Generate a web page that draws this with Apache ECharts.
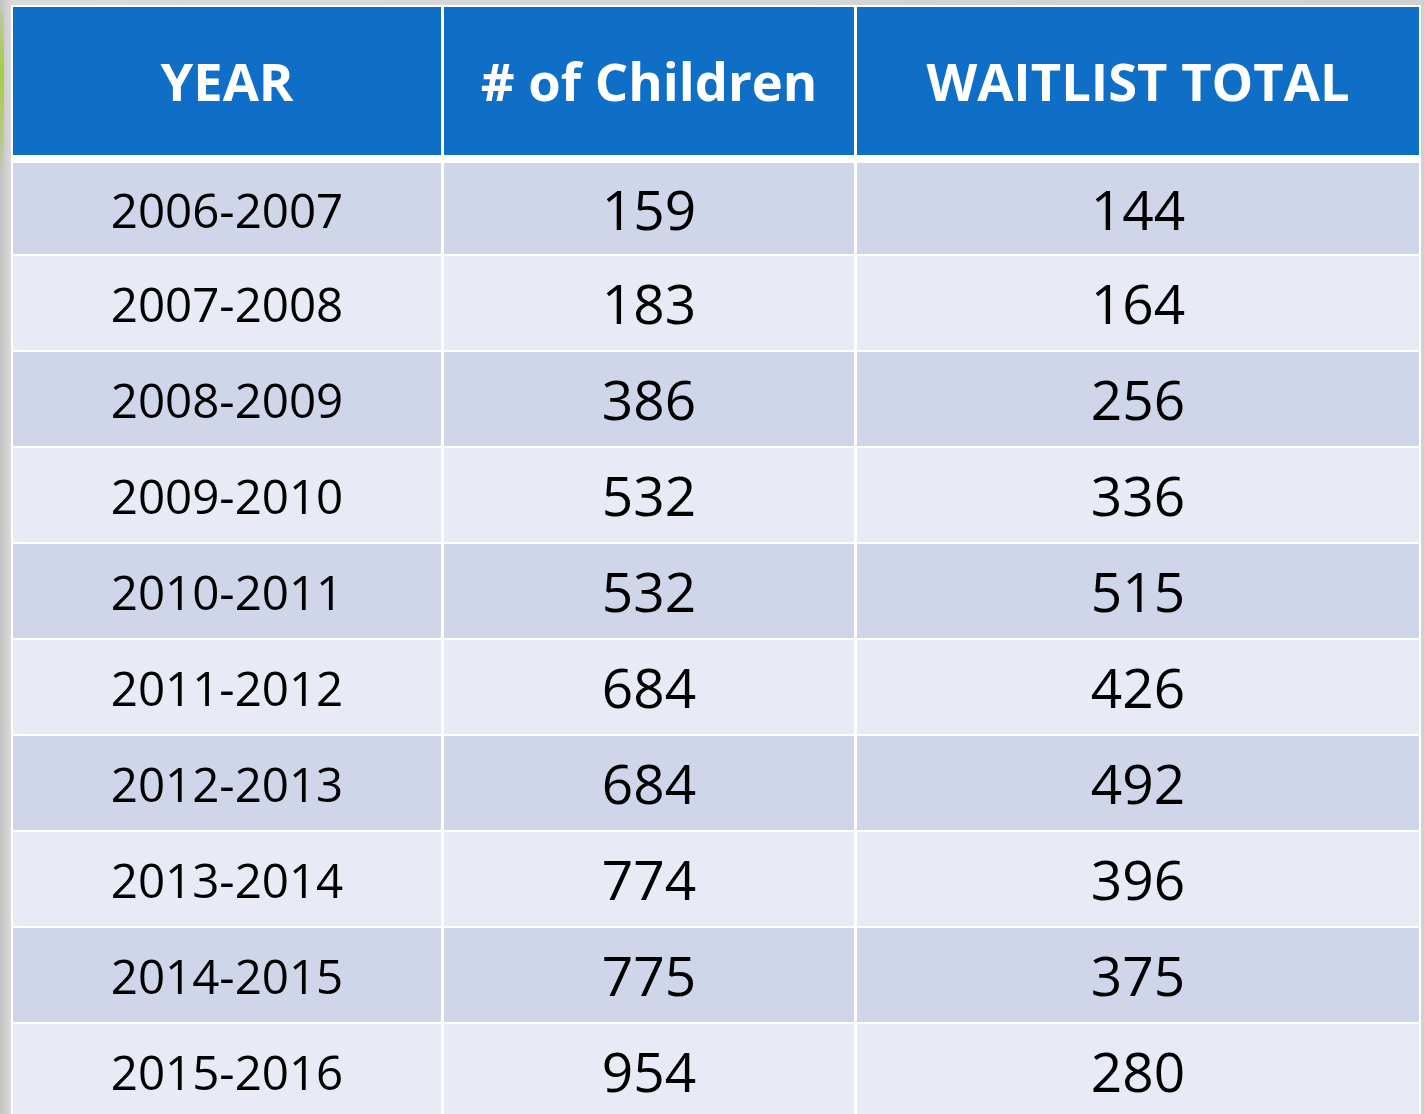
<!DOCTYPE html>
<html>
<head>
<meta charset="utf-8">
<script src="https://cdn.jsdelivr.net/npm/echarts@6/dist/echarts.min.js"></script>
<style>
  html, body { margin: 0; padding: 0; width: 1424px; height: 1114px; overflow: hidden; background: #d4d4d4; }
  #chart { width: 1424px; height: 1114px; }
</style>
</head>
<body>
<div id="chart"></div>
<script>
// ---- data ----
const headers = ['YEAR', '# of Children', 'WAITLIST TOTAL'];
const years = ['2006-2007', '2007-2008', '2008-2009', '2009-2010', '2010-2011',
               '2011-2012', '2012-2013', '2013-2014', '2014-2015', '2015-2016'];
const children = [159, 183, 386, 532, 532, 684, 684, 774, 775, 954];
const waitlist = [144, 164, 256, 336, 515, 426, 492, 396, 375, 280];

// ---- layout (not data) ----
const colLeft = [2, 433, 846];
const colRight = [430, 843, 1408];
const headerTop = 2, headerBottom = 150;
const rowPitch = 96, rowBase = 155, rowH = 94, firstRowTop = 158;

const cells = [];
headers.forEach((h, c) => cells.push({ col: c, row: -1, text: h }));
years.forEach((y, r) => {
  cells.push({ col: 0, row: r, text: y });
  cells.push({ col: 1, row: r, text: String(children[r]) });
  cells.push({ col: 2, row: r, text: String(waitlist[r]) });
});

const chart = echarts.init(document.getElementById('chart'), null, { renderer: 'canvas' });

const option = {
  backgroundColor: {
    type: 'linear', x: 0, y: 0, x2: 1, y2: 0,
    colorStops: [{ offset: 0, color: '#c4c4c4' }, { offset: 0.008, color: '#dadada' }, { offset: 1, color: '#d0d0d0' }]
  },
  animation: false,
  graphic: [
    {
      type: 'rect', left: 0, top: 10, z: 0,
      shape: { width: 4, height: 160 },
      style: {
        fill: {
          type: 'linear', x: 0, y: 0, x2: 0, y2: 1,
          colorStops: [{ offset: 0, color: 'rgba(160,200,60,0.2)' }, { offset: 0.4, color: '#a6cf3c' }, { offset: 1, color: 'rgba(160,200,60,0.1)' }]
        }
      }
    }
  ],
  grid: { left: 11, top: 5, width: 1410, height: 1109, show: true, backgroundColor: '#ffffff', borderWidth: 0 },
  xAxis: { type: 'value', min: 0, max: 1410, show: false },
  yAxis: { type: 'value', min: 0, max: 1109, inverse: true, show: false },
  series: [{
    type: 'custom',
    clip: false,
    data: cells.map(c => [c.col, c.row]),
    renderItem: function (params, api) {
      const cell = cells[params.dataIndex];
      const c = cell.col, r = cell.row;
      let top, bottom, fill;
      if (r < 0) {
        top = headerTop; bottom = headerBottom; fill = '#0F6FC6';
      } else {
        top = r === 0 ? firstRowTop : rowBase + r * rowPitch;
        bottom = rowBase + r * rowPitch + rowH;
        fill = (r % 2 === 0) ? '#CFD6EA' : '#E8EBF5';
      }
      const p0 = api.coord([colLeft[c], top]);
      const p1 = api.coord([colRight[c], bottom]);
      const cx = (p0[0] + p1[0]) / 2, cy = (p0[1] + p1[1]) / 2;
      let font;
      if (r < 0) {
        font = { fontFamily: 'Open Sans', fontWeight: 'bold', fontSize: 52.5, fill: '#ffffff' };
      } else if (c === 0) {
        font = { fontFamily: 'Open Sans', fontSize: 47.5, fill: '#000000' };
      } else {
        font = { fontFamily: 'Open Sans', fontSize: 55, fill: '#000000' };
      }
      return {
        type: 'group',
        children: [
          { type: 'rect', shape: { x: p0[0], y: p0[1], width: p1[0] - p0[0], height: p1[1] - p0[1] }, style: { fill: fill } },
          { type: 'text', x: cx, y: cy + 5.5, style: Object.assign({ text: cell.text, align: 'center', verticalAlign: 'middle' }, font) }
        ]
      };
    }
  }]
};
chart.setOption(option);
</script>
</body>
</html>
